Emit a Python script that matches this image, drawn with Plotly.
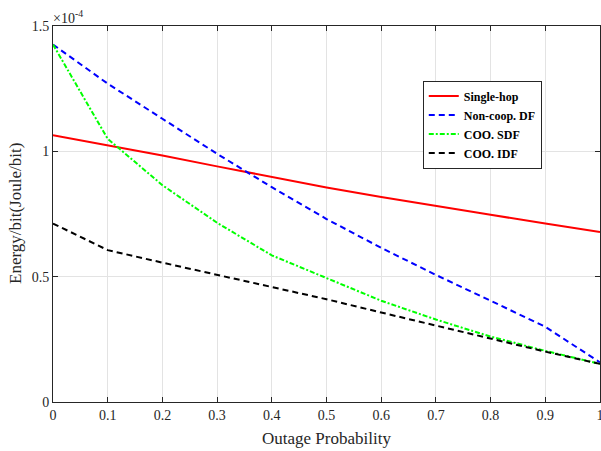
import plotly.graph_objects as go

outage = [0, 0.1, 0.2, 0.3, 0.4, 0.5, 0.6, 0.7, 0.8, 0.9, 1.0]
# Energy/bit in units of 1e-4 Joule/bit
single_hop = [1.064, 1.024, 0.983, 0.940, 0.897, 0.856, 0.818, 0.781, 0.747, 0.712, 0.678]
noncoop_df = [1.426, 1.27, 1.13, 0.99, 0.857, 0.73, 0.615, 0.507, 0.404, 0.30, 0.158]
coo_sdf = [1.426, 1.05, 0.865, 0.715, 0.585, 0.493, 0.404, 0.329, 0.261, 0.204, 0.152]
coo_idf = [0.712, 0.606, 0.556, 0.507, 0.459, 0.410, 0.357, 0.305, 0.251, 0.201, 0.152]

x_ticks = [0, 0.1, 0.2, 0.3, 0.4, 0.5, 0.6, 0.7, 0.8, 0.9, 1]
x_ticktext = ["0", "0.1", "0.2", "0.3", "0.4", "0.5", "0.6", "0.7", "0.8", "0.9", "1"]
y_ticks = [0, 0.5, 1, 1.5]
y_ticktext = ["0", "0.5", "1", "1.5"]

FONT = "Liberation Serif, Times New Roman, serif"
INK = "#262626"

fig = go.Figure()
fig.add_trace(go.Scatter(x=outage, y=single_hop, mode="lines", name="Single-hop",
                         line=dict(color="#ff0000", width=2)))
fig.add_trace(go.Scatter(x=outage, y=noncoop_df, mode="lines", name="Non-coop. DF",
                         line=dict(color="#0000ff", width=2, dash="6px,4px")))
fig.add_trace(go.Scatter(x=outage, y=coo_sdf, mode="lines", name="COO. SDF",
                         line=dict(color="#00ff00", width=2, dash="5px,2px,2px,2px")))
fig.add_trace(go.Scatter(x=outage, y=coo_idf, mode="lines", name="COO. IDF",
                         line=dict(color="#000000", width=2, dash="6px,4px")))

axis_common = dict(
    showline=True, linecolor=INK, linewidth=1, mirror="ticks",
    ticks="inside", ticklen=5, tickcolor=INK,
    showgrid=True, gridcolor="#e3e3e3", gridwidth=1, zeroline=False,
    tickfont=dict(family=FONT, size=14, color=INK), automargin=False,
    ticklabeloverflow="allow",
)

fig.update_xaxes(range=[0, 1], tickvals=x_ticks, ticktext=x_ticktext, **axis_common)
fig.update_yaxes(range=[0, 1.5], tickvals=y_ticks, ticktext=y_ticktext, **axis_common)

fig.add_annotation(text="Outage Probability", xref="paper", yref="paper", x=0.5, y=0,
                   xanchor="center", yanchor="middle", yshift=-36, showarrow=False,
                   font=dict(family=FONT, size=17, color=INK))
fig.add_annotation(text="Energy/bit(Joule/bit)", xref="paper", yref="paper", x=0, y=0.5,
                   xanchor="center", yanchor="middle", xshift=-38, textangle=-90, showarrow=False,
                   font=dict(family=FONT, size=17, color=INK))
fig.add_annotation(text="×10<sup>-4</sup>", xref="paper", yref="paper", x=0, y=1,
                   xanchor="left", yanchor="bottom", showarrow=False, xshift=-2, yshift=-2,
                   font=dict(family=FONT, size=14, color=INK))

fig.update_layout(
    width=601, height=451,
    margin=dict(l=53, r=1, t=26, b=49),
    paper_bgcolor="white", plot_bgcolor="white",
    font=dict(family=FONT),
    legend=dict(x=0.676, y=0.855, xanchor="left", yanchor="top",
                bgcolor="white", bordercolor=INK, borderwidth=1,
                font=dict(family=FONT, size=12, color="#000000", weight="bold"),
                tracegroupgap=0, itemwidth=30),
    showlegend=True,
)

fig.write_html("out.html", config={"displayModeBar": False},
               post_script="document.body.style.margin='0';document.body.style.overflow='hidden';")
